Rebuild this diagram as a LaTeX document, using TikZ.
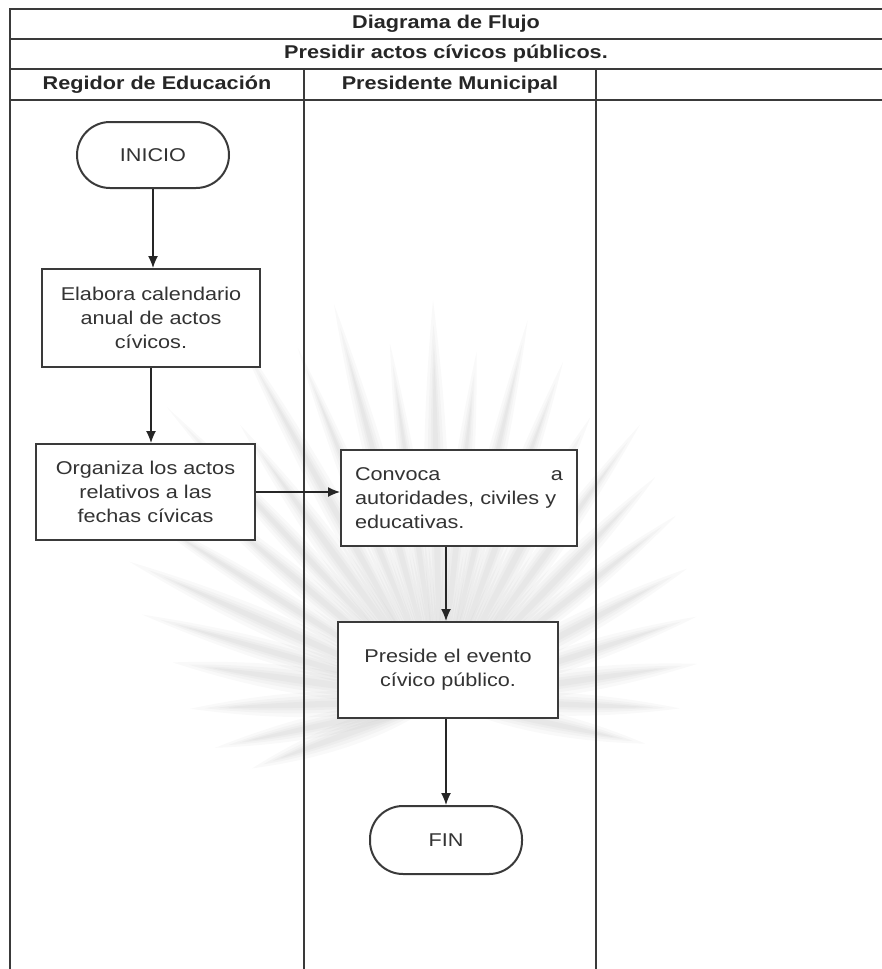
\documentclass[tikz,border=0pt]{standalone}
\usepackage{fontspec}
\setmainfont{Liberation Sans}[FakeStretch=1.17]
\usetikzlibrary{arrows.meta}
\definecolor{ink}{HTML}{333333}
\definecolor{lineink}{HTML}{3A3A3A}

\begin{document}
\begin{tikzpicture}[x=1pt,y=-1pt,
  every node/.style={font=\fontsize{18.5}{24}\selectfont, text=ink},
  hdr/.style={font=\fontsize{18.5}{24}\selectfont\bfseries, text=black!85},
  grid/.style={draw=lineink, line width=2pt},
  lane/.style={draw=lineink, line width=1.6pt},
  process/.style={draw=lineink, line width=2pt, fill=white, align=center, inner sep=0pt},
  terminal/.style={draw=lineink, line width=2pt, fill=white, rounded corners=33pt,
                   minimum width=152pt, minimum height=66pt},
  flow/.style={draw=black!85, line width=1.3pt, -{Latex[length=12pt,width=10pt]}},
  petal/.style={fill=black, fill opacity=0.022}
]
\useasboundingbox (0,0) rectangle (882,969);

% soft agave-like watermark behind the chart: each leaf is layered
% several times with shrinking width so that its edges fade out
\foreach \a/\l/\w in {172/270/24, 164/310/20, 156/340/22, 148/360/18, 140/330/20,
                      133/400/18, 126/340/22, 119/420/20, 112/380/18, 105/410/20,
                      98/360/18, 91/400/22, 84/350/20, 77/390/18, 70/360/20,
                      62/320/22, 54/340/20, 46/310/22, 38/300/20, 28/280/22,
                      18/270/20, 8/260/22, -2/240/20, 182/250/22, 192/230/20,
                      200/200/22, -12/210/20} {
  \foreach \s in {1, 0.7, 0.45, 0.25} {
    \begin{scope}[shift={(440,700)}, rotate=\a]
      \fill[petal] (0,0) .. controls (0.35*\l, \s*\w) and (0.75*\l, 0.5*\s*\w) .. (\s*0.2*\l+0.8*\l,0)
                         .. controls (0.75*\l, -0.5*\s*\w) and (0.35*\l, -\s*\w) .. (0,0);
    \end{scope}
  }
}

% table frame and swimlanes
\draw[grid] (10,9) -- (882,9);
\draw[grid] (10,39) -- (882,39);
\draw[grid] (10,69) -- (882,69);
\draw[grid] (10,100) -- (882,100);
\draw[grid] (10,8) -- (10,969);
\draw[lane] (304,69) -- (304,969);
\draw[lane] (596,69) -- (596,969);

% header texts
\node[hdr] (title) at (446,24) {Diagrama de Flujo};
\node[hdr] (proc) at (446,54) {Presidir actos cívicos públicos.};
\node[hdr] (laneA) at (157,84.5) {Regidor de Educación};
\node[hdr] (laneB) at (450,84.5) {Presidente Municipal};

% flow nodes
\node[terminal] (inicio) at (153,155) {INICIO};
\node[process, minimum width=218pt, minimum height=98pt] (elabora) at (151,318)
  {Elabora calendario\\anual de actos\\cívicos.};
\node[process, minimum width=219pt, minimum height=96pt] (organiza) at (145.5,492)
  {Organiza los actos\\relativos a las\\fechas cívicas};
\node[process, minimum width=236pt, minimum height=96pt, align=left, text width=208pt] (convoca) at (459,498)
  {Convoca\hfill a\\autoridades, civiles y\\educativas.};
\node[process, minimum width=220pt, minimum height=96pt] (preside) at (448,670)
  {Preside el evento\\cívico público.};
\node[terminal, minimum height=68pt] (fin) at (446,840) {FIN};

% connectors
\draw[flow] (inicio.south) -- (inicio.south |- elabora.north);
\draw[flow] (elabora.south) -- (elabora.south |- organiza.north);
\draw[flow] (organiza.east) -- (organiza.east -| convoca.west);
\draw[flow] (convoca.south -| fin.north) -- (fin.north |- preside.north);
\draw[flow] (preside.south -| fin.north) -- (fin.north);
\end{tikzpicture}
\end{document}
